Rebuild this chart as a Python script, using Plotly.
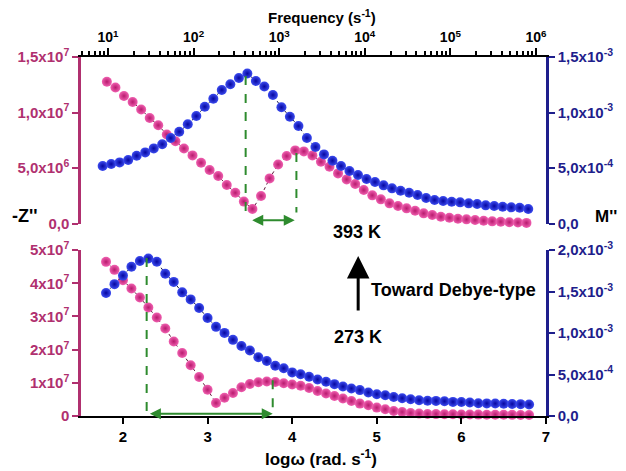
import plotly.graph_objects as go

# ---------------- data ----------------
# bottom panel (273 K): log(omega) positions
logw_bottom = [1.8, 1.9, 2.0, 2.1, 2.2, 2.3, 2.4, 2.5, 2.6, 2.7,
               2.8, 2.9, 3.0, 3.1, 3.2, 3.3, 3.4, 3.5, 3.6, 3.7,
               3.8, 3.9, 4.0, 4.1, 4.2, 4.3, 4.4, 4.5, 4.6, 4.7,
               4.8, 4.9, 5.0, 5.1, 5.2, 5.3, 5.4, 5.5, 5.6, 5.7,
               5.8, 5.9, 6.0, 6.1, 6.2, 6.3, 6.4, 6.5, 6.6, 6.7, 6.8]
# -Z'' (units of 1e7 ohm)
z_bottom_e7 = [4.647, 4.406, 4.095, 3.844, 3.573, 3.271, 2.969, 2.640, 2.248, 1.901,
               1.530, 1.177, 0.791, 0.392, 0.549, 0.694, 0.866, 0.966, 1.017, 1.041,
               1.023, 0.987, 0.951, 0.911, 0.845, 0.754, 0.676, 0.604, 0.525, 0.453,
               0.374, 0.323, 0.253, 0.202, 0.151, 0.121, 0.091, 0.072, 0.060, 0.057,
               0.054, 0.051, 0.048, 0.045, 0.042, 0.040, 0.038, 0.036, 0.034, 0.032, 0.030]
# M'' (units of 1e-3)
m_bottom_em3 = [1.484, 1.590, 1.693, 1.799, 1.869, 1.899, 1.861, 1.715, 1.617, 1.491,
                1.406, 1.303, 1.181, 1.075, 1.002, 0.918, 0.845, 0.790, 0.709, 0.663,
                0.606, 0.575, 0.526, 0.503, 0.473, 0.441, 0.412, 0.384, 0.356, 0.332,
                0.312, 0.284, 0.263, 0.251, 0.230, 0.215, 0.202, 0.190, 0.184, 0.182,
                0.178, 0.170, 0.168, 0.162, 0.154, 0.152, 0.150, 0.148, 0.145, 0.143, 0.138]

# top panel (393 K)
logw_top_z = [1.810, 1.911, 2.012, 2.114, 2.215, 2.316, 2.417, 2.518, 2.620, 2.721,
              2.822, 2.923, 3.024, 3.126, 3.227, 3.328, 3.429, 3.530, 3.632, 3.733,
              3.834, 3.935, 4.036, 4.138, 4.239, 4.340, 4.441, 4.542, 4.644, 4.745,
              4.846, 4.947, 5.048, 5.150, 5.251, 5.352, 5.453, 5.554, 5.656, 5.757,
              5.858, 5.959, 6.060, 6.162, 6.263, 6.364, 6.465, 6.566, 6.668, 6.769]
z_top_e7 = [1.277, 1.225, 1.149, 1.095, 1.027, 0.950, 0.885, 0.802, 0.741, 0.676,
            0.614, 0.547, 0.482, 0.428, 0.347, 0.277, 0.198, 0.132, 0.248, 0.407,
            0.532, 0.608, 0.659, 0.650, 0.614, 0.557, 0.512, 0.452, 0.398, 0.356,
            0.302, 0.254, 0.218, 0.182, 0.158, 0.137, 0.115, 0.092, 0.077, 0.061,
            0.052, 0.043, 0.038, 0.032, 0.025, 0.020, 0.016, 0.012, 0.009, 0.006]
logw_top_m = [1.760, 1.861, 1.961, 2.062, 2.162, 2.263, 2.364, 2.464, 2.565, 2.665,
              2.766, 2.867, 2.967, 3.068, 3.168, 3.269, 3.370, 3.470, 3.571, 3.671,
              3.772, 3.873, 3.973, 4.074, 4.174, 4.275, 4.376, 4.476, 4.577, 4.677,
              4.778, 4.879, 4.979, 5.080, 5.180, 5.281, 5.382, 5.482, 5.583, 5.683,
              5.784, 5.885, 5.985, 6.086, 6.186, 6.287, 6.388, 6.488, 6.589, 6.689, 6.790]
m_top_em3 = [0.518, 0.536, 0.551, 0.572, 0.611, 0.641, 0.677, 0.714, 0.770, 0.827,
             0.894, 0.968, 1.052, 1.124, 1.203, 1.254, 1.311, 1.351, 1.284, 1.234,
             1.158, 1.047, 0.962, 0.878, 0.770, 0.689, 0.623, 0.566, 0.518, 0.473,
             0.437, 0.401, 0.374, 0.344, 0.317, 0.295, 0.277, 0.257, 0.230, 0.212,
             0.203, 0.196, 0.191, 0.182, 0.176, 0.164, 0.158, 0.151, 0.146, 0.142, 0.131]

# tick labels
x_ticks = [2, 3, 4, 5, 6, 7]
freq_ticks = [1e1, 1e2, 1e3, 1e4, 1e5, 1e6]
freq_labels = ["10<sup>1</sup>", "10<sup>2</sup>", "10<sup>3</sup>",
               "10<sup>4</sup>", "10<sup>5</sup>", "10<sup>6</sup>"]
zt_ticks = [0, 5e6, 1e7, 1.5e7]
zt_labels = ["0,0", "5,0x10<sup>6</sup>", "1,0x10<sup>7</sup>", "1,5x10<sup>7</sup>"]
mt_ticks = [0, 5e-4, 1e-3, 1.5e-3]
mt_labels = ["0,0", "5,0x10<sup>-4</sup>", "1,0x10<sup>-3</sup>", "1,5x10<sup>-3</sup>"]
zb_ticks = [0, 1e7, 2e7, 3e7, 4e7, 5e7]
zb_labels = ["0", "1x10<sup>7</sup>", "2x10<sup>7</sup>", "3x10<sup>7</sup>",
             "4x10<sup>7</sup>", "5x10<sup>7</sup>"]
mb_ticks = [0, 5e-4, 1e-3, 1.5e-3, 2e-3]
mb_labels = ["0,0", "5,0x10<sup>-4</sup>", "1,0x10<sup>-3</sup>",
             "1,5x10<sup>-3</sup>", "2,0x10<sup>-3</sup>"]

# ---------------- styling ----------------
FONT = "Liberation Sans, Arial, sans-serif"
PINK = "#B81A6E"
PINK_LIGHT = "#F060B0"
PINK_AX = "#B0306F"
BLUE = "#0606A0"
BLUE_LIGHT = "#3C4CF0"
NAVY = "#1E1E8C"
GREEN = "#2E8B2E"

# the page body adds an 8 px offset at top/left; the figure is sized so the
# plot area lands on x 81..546 and y 57..416 of the 626x471 window
PAGE_OFF = 8

fig = go.Figure()


def add_series(x, y, xa, ya, dark, light, linec):
    fig.add_trace(go.Scatter(
        x=x, y=y, xaxis=xa, yaxis=ya, mode="lines+markers", cliponaxis=False,
        line=dict(color=linec, width=1, dash="dot"),
        marker=dict(size=10, color=light,
                    gradient=dict(type="radial", color=dark)),
        showlegend=False, hoverinfo="skip"))


# bottom panel
add_series(logw_bottom, [v * 1e-3 for v in m_bottom_em3], "x", "y2", BLUE, BLUE_LIGHT, "#10104A")
add_series(logw_bottom, [v * 1e7 for v in z_bottom_e7], "x", "y", PINK, PINK_LIGHT, "#5A1838")
# top panel
add_series(logw_top_m, [v * 1e-3 for v in m_top_em3], "x", "y4", BLUE, BLUE_LIGHT, "#10104A")
add_series(logw_top_z, [v * 1e7 for v in z_top_e7], "x", "y3", PINK, PINK_LIGHT, "#5A1838")

# invisible trace so the frequency axis is drawn
fig.add_trace(go.Scatter(x=[freq_ticks[0], freq_ticks[-1]], y=[0, 0], xaxis="x2", yaxis="y3",
                         mode="markers", marker=dict(opacity=0), showlegend=False,
                         hoverinfo="skip"))

tickfont_x = dict(family=FONT, size=15, color="black", weight="bold")
tf_pink = dict(family=FONT, size=15, color=PINK_AX, weight="bold")
tf_navy = dict(family=FONT, size=15, color=NAVY, weight="bold")

minor_freq = [k * 10 ** d for d in range(0, 6) for k in range(2, 10)]

fig.update_layout(
    width=626 - PAGE_OFF, height=471 - PAGE_OFF,
    margin=dict(l=81 - PAGE_OFF, r=80, t=57 - PAGE_OFF, b=55, autoexpand=False),
    plot_bgcolor="white", paper_bgcolor="white",
    font=dict(family=FONT),
    showlegend=False,
    xaxis=dict(domain=[0, 1], range=[1.504, 7.0], anchor="y", automargin=False,
               tickmode="array", tickvals=x_ticks, ticks="outside", ticklen=6, tickwidth=2,
               tickcolor="black", showline=True, linewidth=2, linecolor="black",
               showgrid=False, zeroline=False, tickfont=tickfont_x),
    xaxis2=dict(type="log", range=[0.685, 6.117], overlaying="x", anchor="y3", side="top",
                automargin=False,
                tickmode="array", tickvals=freq_ticks, ticktext=freq_labels,
                ticks="outside", ticklen=7, tickwidth=2, tickcolor="black",
                minor=dict(tickmode="array", tickvals=minor_freq, ticks="outside",
                           ticklen=4, tickwidth=1.5, tickcolor="black", showgrid=False),
                showline=True, linewidth=2, linecolor="black",
                showgrid=False, zeroline=False,
                tickfont=dict(family=FONT, size=14, color="black", weight="bold")),
    yaxis=dict(domain=[0, 0.462], range=[0, 5e7], anchor="x", side="left", automargin=False,
               tickmode="array", tickvals=zb_ticks, ticktext=zb_labels,
               ticks="outside", ticklen=6, tickwidth=2, tickcolor=PINK_AX,
               showline=True, linewidth=2.5, linecolor=PINK_AX,
               showgrid=False, zeroline=False, tickfont=tf_pink),
    yaxis2=dict(overlaying="y", side="right", anchor="x", range=[0, 2e-3], automargin=False,
                tickmode="array", tickvals=mb_ticks, ticktext=mb_labels,
                ticks="outside", ticklen=6, tickwidth=2, tickcolor=NAVY,
                showline=True, linewidth=2.5, linecolor=NAVY,
                showgrid=False, zeroline=False, tickfont=tf_navy),
    yaxis3=dict(domain=[0.536, 1], range=[0, 1.5e7], anchor="x", side="left", automargin=False,
                tickmode="array", tickvals=zt_ticks, ticktext=zt_labels,
                ticks="outside", ticklen=6, tickwidth=2, tickcolor=PINK_AX,
                showline=True, linewidth=2.5, linecolor=PINK_AX,
                showgrid=False, zeroline=False, tickfont=tf_pink),
    yaxis4=dict(overlaying="y3", side="right", anchor="x", range=[0, 1.5e-3], automargin=False,
                tickmode="array", tickvals=mt_ticks, ticktext=mt_labels,
                ticks="outside", ticklen=6, tickwidth=2, tickcolor=NAVY,
                showline=True, linewidth=2.5, linecolor=NAVY,
                showgrid=False, zeroline=False, tickfont=tf_navy),
)

# green dashed guide lines
guides = [
    ("y3", 3.45, 1.33e7, 0.06e7),
    ("y3", 4.05, 0.635e7, 0.10e7),
    ("y", 2.28, 4.76e7, 0.11e7),
    ("y", 3.77, 1.08e7, 0.09e7),
]
for yref, gx, y0, y1 in guides:
    fig.add_shape(type="line", xref="x", yref=yref, x0=gx, x1=gx, y0=y0, y1=y1,
                  line=dict(color=GREEN, width=2, dash="dash"))

# green double arrows
for yref, xa, xb, yy in [("y3", 3.51, 4.03, 0.03e7), ("y", 2.30, 3.77, 0.07e7)]:
    fig.add_annotation(x=xb, y=yy, ax=xa, ay=yy, xref="x", yref=yref,
                       axref="x", ayref=yref, text="", showarrow=True,
                       arrowside="end+start", arrowhead=2, arrowsize=1.1,
                       arrowwidth=2, arrowcolor=GREEN)

# big black arrow
fig.add_annotation(x=4.78, y=4.82e7, xref="x", yref="y", ax=0, ay=56,
                   text="", showarrow=True, arrowhead=2, arrowsize=1.5,
                   arrowwidth=3, arrowcolor="black")

bold18 = dict(family=FONT, size=18, color="black", weight="bold")
texts = [
    ("393 K", 0.5935, 0.512, bold18),
    ("273 K", 0.5957, 0.219, bold18),
    ("Toward Debye-type", 0.802, 0.350, bold18),
]
for t, px, py, f in texts:
    fig.add_annotation(text=t, x=px, y=py, xref="paper", yref="paper",
                       showarrow=False, font=f, xanchor="center", yanchor="middle")

# axis titles
titles = [
    ("-Z''", (25 - 81) / 465, (416 - 216) / 359, 18),
    ("M''", (606 - 81) / 465, (416 - 216) / 359, 17),
    ("Frequency (s<sup>-1</sup>)", (322 - 81) / 465, (416 - 17) / 359, 15),
    ("log\u03c9 (rad. s<sup>-1</sup>)", (321 - 81) / 465, (416 - 458) / 359, 17),
]
for t, px, py, sz in titles:
    fig.add_annotation(text=t, x=px, y=py, xref="paper", yref="paper",
                       showarrow=False, xanchor="center", yanchor="middle",
                       font=dict(family=FONT, size=sz, color="black", weight="bold"))

fig.write_html("out.html")
